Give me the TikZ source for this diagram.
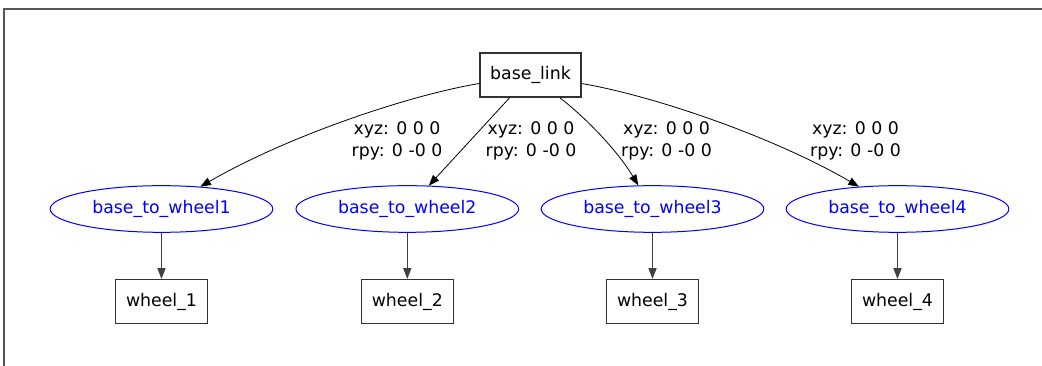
\documentclass[tikz,border=0pt]{standalone}
\usepackage{fontspec}
\setmainfont{DejaVu Sans}
\usepackage{tikz}
\usetikzlibrary{arrows.meta,shapes.geometric}
\definecolor{jointblue}{HTML}{0000FF}
\definecolor{framegray}{HTML}{555555}

\begin{document}
\begin{tikzpicture}[x=0.75pt,y=-0.75pt,
    link/.style={draw=black!80,line width=0.9pt,minimum height=33pt,font=\fontsize{13}{16}\selectfont},
    joint/.style={ellipse,draw=jointblue,text=jointblue,line width=0.75pt,minimum width=167pt,minimum height=35pt,inner sep=0pt,font=\fontsize{13}{16}\selectfont},
    tf/.style={align=center,font=\fontsize{13}{16.5}\selectfont},
    edge/.style={-{Triangle[length=8pt,width=6pt]},line width=0.6pt}]
  \useasboundingbox (0,0) rectangle (1042,366);
  \draw[framegray,line width=1.1pt] (4,366) -- (4,9) -- (1042,9);
  \node[link,minimum width=75.75pt] (base) at (530.5,75) {base\_link};
  \foreach \i/\x in {1/161.5,2/407.3,3/652.5,4/897.5}{
    \node[joint] (j\i) at (\x,209) {base\_to\_wheel\i};
    \node[link,minimum width=69pt] (w\i) at (\x,301.5) {wheel\_\i};
    \draw[edge,black!75,line width=1pt] (j\i) -- (w\i);
  }
  \foreach \i/\x in {1/397,2/531,3/666.5,4/855.5}{
    \node[tf] (t\i) at (\x,141) {xyz: 0 0 0\\rpy: 0 -0 0};
  }
  \draw[edge] (base) .. controls (410,95) and (290,135) .. (j1);
  \draw[edge] (base) -- (j2);
  \draw[edge] (base) .. controls (586,118) and (617,150) .. (j3);
  \draw[edge] (base) .. controls (650,95) and (770,135) .. (j4);
\end{tikzpicture}
\end{document}
